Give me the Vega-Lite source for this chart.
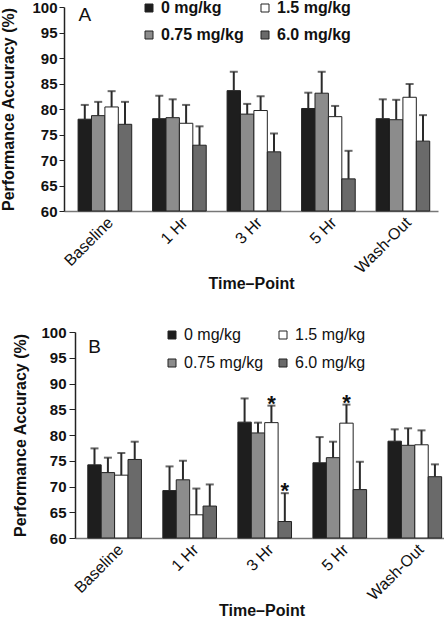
{
  "$schema": "https://vega.github.io/schema/vega-lite/v6.json",
  "padding": {"left": 0, "top": 0, "right": 0, "bottom": 0},
  "spacing": 33,
  "config": {"font": "Liberation Sans", "view": {"stroke": null}, "axis": {"grid": false}},
  "resolve": {"legend": {"color": "independent"}},
  "data": {"values": [
    {"panel": "A", "time": "Baseline", "dose": "0 mg/kg", "acc": 78.0, "err": 80.8, "star": ""},
    {"panel": "A", "time": "Baseline", "dose": "0.75 mg/kg", "acc": 78.7, "err": 81.4, "star": ""},
    {"panel": "A", "time": "Baseline", "dose": "1.5 mg/kg", "acc": 80.4, "err": 83.5, "star": ""},
    {"panel": "A", "time": "Baseline", "dose": "6.0 mg/kg", "acc": 77.0, "err": 81.4, "star": ""},
    {"panel": "A", "time": "1 Hr", "dose": "0 mg/kg", "acc": 78.1, "err": 82.6, "star": ""},
    {"panel": "A", "time": "1 Hr", "dose": "0.75 mg/kg", "acc": 78.3, "err": 81.9, "star": ""},
    {"panel": "A", "time": "1 Hr", "dose": "1.5 mg/kg", "acc": 77.2, "err": 80.8, "star": ""},
    {"panel": "A", "time": "1 Hr", "dose": "6.0 mg/kg", "acc": 72.9, "err": 76.6, "star": ""},
    {"panel": "A", "time": "3 Hr", "dose": "0 mg/kg", "acc": 83.6, "err": 87.3, "star": ""},
    {"panel": "A", "time": "3 Hr", "dose": "0.75 mg/kg", "acc": 79.0, "err": 81.0, "star": ""},
    {"panel": "A", "time": "3 Hr", "dose": "1.5 mg/kg", "acc": 79.7, "err": 82.5, "star": ""},
    {"panel": "A", "time": "3 Hr", "dose": "6.0 mg/kg", "acc": 71.6, "err": 75.2, "star": ""},
    {"panel": "A", "time": "5 Hr", "dose": "0 mg/kg", "acc": 80.1, "err": 83.2, "star": ""},
    {"panel": "A", "time": "5 Hr", "dose": "0.75 mg/kg", "acc": 83.1, "err": 87.3, "star": ""},
    {"panel": "A", "time": "5 Hr", "dose": "1.5 mg/kg", "acc": 78.5, "err": 80.6, "star": ""},
    {"panel": "A", "time": "5 Hr", "dose": "6.0 mg/kg", "acc": 66.3, "err": 71.8, "star": ""},
    {"panel": "A", "time": "Wash-Out", "dose": "0 mg/kg", "acc": 78.1, "err": 81.9, "star": ""},
    {"panel": "A", "time": "Wash-Out", "dose": "0.75 mg/kg", "acc": 77.9, "err": 81.8, "star": ""},
    {"panel": "A", "time": "Wash-Out", "dose": "1.5 mg/kg", "acc": 82.3, "err": 84.9, "star": ""},
    {"panel": "A", "time": "Wash-Out", "dose": "6.0 mg/kg", "acc": 73.7, "err": 78.8, "star": ""},
    {"panel": "B", "time": "Baseline", "dose": "0 mg/kg", "acc": 74.2, "err": 77.4, "star": ""},
    {"panel": "B", "time": "Baseline", "dose": "0.75 mg/kg", "acc": 72.7, "err": 75.6, "star": ""},
    {"panel": "B", "time": "Baseline", "dose": "1.5 mg/kg", "acc": 72.2, "err": 76.5, "star": ""},
    {"panel": "B", "time": "Baseline", "dose": "6.0 mg/kg", "acc": 75.25, "err": 78.7, "star": ""},
    {"panel": "B", "time": "1 Hr", "dose": "0 mg/kg", "acc": 69.2, "err": 73.9, "star": ""},
    {"panel": "B", "time": "1 Hr", "dose": "0.75 mg/kg", "acc": 71.3, "err": 75.0, "star": ""},
    {"panel": "B", "time": "1 Hr", "dose": "1.5 mg/kg", "acc": 64.5, "err": 69.6, "star": ""},
    {"panel": "B", "time": "1 Hr", "dose": "6.0 mg/kg", "acc": 66.2, "err": 70.4, "star": ""},
    {"panel": "B", "time": "3 Hr", "dose": "0 mg/kg", "acc": 82.5, "err": 87.1, "star": ""},
    {"panel": "B", "time": "3 Hr", "dose": "0.75 mg/kg", "acc": 80.4, "err": 82.4, "star": ""},
    {"panel": "B", "time": "3 Hr", "dose": "1.5 mg/kg", "acc": 82.4, "err": 85.7, "star": "*"},
    {"panel": "B", "time": "3 Hr", "dose": "6.0 mg/kg", "acc": 63.2, "err": 68.7, "star": "*"},
    {"panel": "B", "time": "5 Hr", "dose": "0 mg/kg", "acc": 74.6, "err": 79.6, "star": ""},
    {"panel": "B", "time": "5 Hr", "dose": "0.75 mg/kg", "acc": 75.6, "err": 78.7, "star": ""},
    {"panel": "B", "time": "5 Hr", "dose": "1.5 mg/kg", "acc": 82.3, "err": 85.9, "star": "*"},
    {"panel": "B", "time": "5 Hr", "dose": "6.0 mg/kg", "acc": 69.4, "err": 74.8, "star": ""},
    {"panel": "B", "time": "Wash-Out", "dose": "0 mg/kg", "acc": 78.8, "err": 81.1, "star": ""},
    {"panel": "B", "time": "Wash-Out", "dose": "0.75 mg/kg", "acc": 78.0, "err": 81.3, "star": ""},
    {"panel": "B", "time": "Wash-Out", "dose": "1.5 mg/kg", "acc": 78.1, "err": 80.9, "star": ""},
    {"panel": "B", "time": "Wash-Out", "dose": "6.0 mg/kg", "acc": 71.9, "err": 74.3, "star": ""}
  ]},
  "vconcat": [
    {
      "transform": [{"filter": "datum.panel === 'A'"}],
      "width": 374,
      "height": 204,
      "encoding": {
        "x": {"field": "time", "type": "nominal",
          "scale": {"domain": ["Baseline", "1 Hr", "3 Hr", "5 Hr", "Wash-Out"], "paddingInner": 0.28, "paddingOuter": 0.15, "align": 0.63},
          "axis": {"title": "Time–Point", "labelAngle": -45, "labelFontSize": 16, "labelColor": "#111", "ticks": false, "labelPadding": 3, "titleFontSize": 16, "titleFontWeight": "bold", "titleColor": "#111", "titlePadding": 0, "domainColor": "#777", "domainWidth": 1.5}},
        "xOffset": {"field": "dose", "type": "nominal", "scale": {"domain": ["0 mg/kg", "0.75 mg/kg", "1.5 mg/kg", "6.0 mg/kg"], "paddingInner": 0, "paddingOuter": 0}}
      },
      "layer": [
        {
          "mark": {"type": "bar", "stroke": "#222", "strokeWidth": 1},
          "encoding": {
            "y": {"field": "acc", "type": "quantitative", "scale": {"domain": [60, 100]},
              "axis": {"title": "Performance Accuracy (%)", "values": [60, 65, 70, 75, 80, 85, 90, 95, 100], "labelOverlap": false, "titleFontSize": 16, "titleFontWeight": "bold", "titleColor": "#111", "titlePadding": 15, "labelFontSize": 15, "labelFontWeight": "bold", "labelColor": "#111", "labelPadding": 2, "tickSize": 5, "tickColor": "#222", "domainColor": "#222", "domainWidth": 1.5}},
            "y2": {"datum": 60},
            "color": {"field": "dose", "type": "nominal",
              "scale": {"domain": ["0 mg/kg", "0.75 mg/kg", "1.5 mg/kg", "6.0 mg/kg"], "range": ["#1e1e1e", "#8c8c8c", "#ffffff", "#6a6a6a"]},
              "legend": {"title": null, "orient": "none", "legendX": 77, "legendY": -7, "columns": 2, "symbolType": "square", "symbolSize": 64, "symbolStrokeColor": "#222", "symbolStrokeWidth": 1, "labelFontSize": 16, "labelFontWeight": "bold", "labelColor": "#111", "labelOffset": 4, "rowPadding": 11, "columnPadding": 13, "padding": 0}}
          }
        },
        {
          "mark": {"type": "rule", "color": "#2a2a2a", "strokeWidth": 2},
          "encoding": {
            "y": {"field": "acc", "type": "quantitative", "scale": {"domain": [60, 100]},
              "axis": {"title": "Performance Accuracy (%)", "values": [60, 65, 70, 75, 80, 85, 90, 95, 100], "labelOverlap": false, "titleFontSize": 16, "titleFontWeight": "bold", "titleColor": "#111", "titlePadding": 15, "labelFontSize": 15, "labelFontWeight": "bold", "labelColor": "#111", "labelPadding": 2, "tickSize": 5, "tickColor": "#222", "domainColor": "#222", "domainWidth": 1.5}},
            "y2": {"field": "err"}
          }
        },
        {
          "mark": {"type": "tick", "color": "#2a2a2a", "thickness": 2, "size": 8},
          "encoding": {
            "y": {"field": "err", "type": "quantitative", "scale": {"domain": [60, 100]},
              "axis": {"title": "Performance Accuracy (%)", "values": [60, 65, 70, 75, 80, 85, 90, 95, 100], "labelOverlap": false, "titleFontSize": 16, "titleFontWeight": "bold", "titleColor": "#111", "titlePadding": 15, "labelFontSize": 15, "labelFontWeight": "bold", "labelColor": "#111", "labelPadding": 2, "tickSize": 5, "tickColor": "#222", "domainColor": "#222", "domainWidth": 1.5}}
          }
        },
        {
          "data": {"values": [{"panel": "A", "lab": "A"}]},
          "mark": {"type": "text", "fontSize": 19, "fontWeight": "normal", "baseline": "top", "align": "center", "dy": -1, "color": "#111"},
          "encoding": {
            "x": {"datum": "Baseline", "type": "nominal", "scale": {"domain": ["Baseline", "1 Hr", "3 Hr", "5 Hr", "Wash-Out"], "paddingInner": 0.28, "paddingOuter": 0.15, "align": 0.63}},
            "xOffset": {"datum": "0 mg/kg", "type": "nominal", "scale": {"domain": ["0 mg/kg", "0.75 mg/kg", "1.5 mg/kg", "6.0 mg/kg"], "paddingInner": 0, "paddingOuter": 0}},
            "y": {"datum": 100, "type": "quantitative", "scale": {"domain": [60, 100]},
              "axis": {"title": "Performance Accuracy (%)", "values": [60, 65, 70, 75, 80, 85, 90, 95, 100], "labelOverlap": false, "titleFontSize": 16, "titleFontWeight": "bold", "titleColor": "#111", "titlePadding": 15, "labelFontSize": 15, "labelFontWeight": "bold", "labelColor": "#111", "labelPadding": 2, "tickSize": 5, "tickColor": "#222", "domainColor": "#222", "domainWidth": 1.5}},
            "text": {"field": "lab"}
          }
        }
      ]
    },
    {
      "transform": [{"filter": "datum.panel === 'B'"}],
      "width": 384,
      "height": 206,
      "encoding": {
        "x": {"field": "time", "type": "nominal",
          "scale": {"domain": ["Baseline", "1 Hr", "3 Hr", "5 Hr", "Wash-Out"], "rangeMin": 11, "paddingInner": 0.27, "paddingOuter": 0.12, "align": 0.71},
          "axis": {"title": "Time–Point", "labelAngle": -45, "labelFontSize": 16, "labelColor": "#111", "ticks": false, "labelPadding": 3, "titleFontSize": 16, "titleFontWeight": "bold", "titleColor": "#111", "titlePadding": 0, "domainColor": "#777", "domainWidth": 1.5}},
        "xOffset": {"field": "dose", "type": "nominal", "scale": {"domain": ["0 mg/kg", "0.75 mg/kg", "1.5 mg/kg", "6.0 mg/kg"], "paddingInner": 0, "paddingOuter": 0}}
      },
      "layer": [
        {
          "mark": {"type": "bar", "stroke": "#222", "strokeWidth": 1},
          "encoding": {
            "y": {"field": "acc", "type": "quantitative", "scale": {"domain": [60, 100]},
              "axis": {"title": "Performance Accuracy (%)", "offset": -11, "values": [60, 65, 70, 75, 80, 85, 90, 95, 100], "labelOverlap": false, "titleFontSize": 16, "titleFontWeight": "bold", "titleColor": "#111", "titlePadding": 12, "labelFontSize": 15, "labelFontWeight": "bold", "labelColor": "#111", "labelPadding": 3, "tickSize": 6, "tickColor": "#222", "domainColor": "#222", "domainWidth": 1.5}},
            "y2": {"datum": 60},
            "color": {"field": "dose", "type": "nominal",
              "scale": {"domain": ["0 mg/kg", "0.75 mg/kg", "1.5 mg/kg", "6.0 mg/kg"], "range": ["#1e1e1e", "#8c8c8c", "#ffffff", "#6a6a6a"]},
              "legend": {"title": null, "orient": "none", "legendX": 100, "legendY": -5, "columns": 2, "symbolType": "square", "symbolSize": 64, "symbolStrokeColor": "#222", "symbolStrokeWidth": 1, "labelFontSize": 16, "labelFontWeight": "normal", "labelColor": "#111", "labelOffset": 4, "rowPadding": 12, "columnPadding": 11, "padding": 0}}
          }
        },
        {
          "mark": {"type": "rule", "color": "#2a2a2a", "strokeWidth": 2},
          "encoding": {
            "y": {"field": "acc", "type": "quantitative", "scale": {"domain": [60, 100]},
              "axis": {"title": "Performance Accuracy (%)", "offset": -11, "values": [60, 65, 70, 75, 80, 85, 90, 95, 100], "labelOverlap": false, "titleFontSize": 16, "titleFontWeight": "bold", "titleColor": "#111", "titlePadding": 12, "labelFontSize": 15, "labelFontWeight": "bold", "labelColor": "#111", "labelPadding": 3, "tickSize": 6, "tickColor": "#222", "domainColor": "#222", "domainWidth": 1.5}},
            "y2": {"field": "err"}
          }
        },
        {
          "mark": {"type": "tick", "color": "#2a2a2a", "thickness": 2, "size": 8},
          "encoding": {
            "y": {"field": "err", "type": "quantitative", "scale": {"domain": [60, 100]},
              "axis": {"title": "Performance Accuracy (%)", "offset": -11, "values": [60, 65, 70, 75, 80, 85, 90, 95, 100], "labelOverlap": false, "titleFontSize": 16, "titleFontWeight": "bold", "titleColor": "#111", "titlePadding": 12, "labelFontSize": 15, "labelFontWeight": "bold", "labelColor": "#111", "labelPadding": 3, "tickSize": 6, "tickColor": "#222", "domainColor": "#222", "domainWidth": 1.5}}
          }
        },
        {
          "transform": [{"filter": "datum.star === '*'"}],
          "mark": {"type": "text", "fontSize": 22, "fontWeight": "bold", "baseline": "alphabetic", "dy": 5, "color": "#111"},
          "encoding": {
            "y": {"field": "err", "type": "quantitative", "scale": {"domain": [60, 100]},
              "axis": {"title": "Performance Accuracy (%)", "offset": -11, "values": [60, 65, 70, 75, 80, 85, 90, 95, 100], "labelOverlap": false, "titleFontSize": 16, "titleFontWeight": "bold", "titleColor": "#111", "titlePadding": 12, "labelFontSize": 15, "labelFontWeight": "bold", "labelColor": "#111", "labelPadding": 3, "tickSize": 6, "tickColor": "#222", "domainColor": "#222", "domainWidth": 1.5}},
            "text": {"field": "star"}
          }
        },
        {
          "data": {"values": [{"panel": "B", "lab": "B"}]},
          "mark": {"type": "text", "fontSize": 19, "fontWeight": "normal", "baseline": "top", "align": "center", "dy": 6, "color": "#111"},
          "encoding": {
            "x": {"datum": "Baseline", "type": "nominal", "scale": {"domain": ["Baseline", "1 Hr", "3 Hr", "5 Hr", "Wash-Out"], "rangeMin": 11, "paddingInner": 0.27, "paddingOuter": 0.12, "align": 0.71}},
            "xOffset": {"datum": "0 mg/kg", "type": "nominal", "scale": {"domain": ["0 mg/kg", "0.75 mg/kg", "1.5 mg/kg", "6.0 mg/kg"], "paddingInner": 0, "paddingOuter": 0}},
            "y": {"datum": 100, "type": "quantitative", "scale": {"domain": [60, 100]},
              "axis": {"title": "Performance Accuracy (%)", "offset": -11, "values": [60, 65, 70, 75, 80, 85, 90, 95, 100], "labelOverlap": false, "titleFontSize": 16, "titleFontWeight": "bold", "titleColor": "#111", "titlePadding": 12, "labelFontSize": 15, "labelFontWeight": "bold", "labelColor": "#111", "labelPadding": 3, "tickSize": 6, "tickColor": "#222", "domainColor": "#222", "domainWidth": 1.5}},
            "text": {"field": "lab"}
          }
        }
      ]
    }
  ]
}
